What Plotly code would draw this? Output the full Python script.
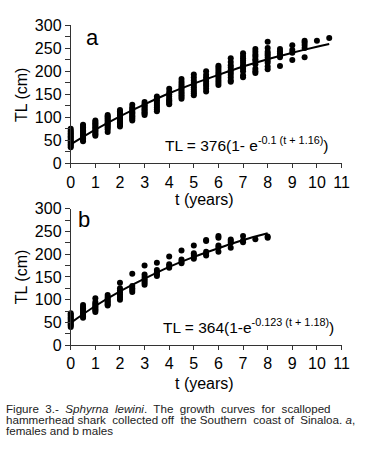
import plotly.graph_objects as go

# ---------------- data ----------------
a_ages = [0, 0.5, 1, 1.5, 2, 2.5, 3, 3.5, 4, 4.5, 5, 5.5, 6, 6.5, 7, 7.5, 8, 8.5, 9, 9.5, 10, 10.5]
a_tl = [
    [35, 38, 41, 44, 47, 50, 53, 56, 59, 62, 65, 68, 71, 75],
    [48, 51, 54, 57, 60, 63, 66, 69, 72, 75, 78, 81, 84],
    [60, 63, 66, 69, 72, 75, 78, 81, 84, 87, 90, 93],
    [68, 74, 78, 81, 84, 87, 90, 93, 96, 99, 102, 105],
    [80, 83, 86, 89, 92, 95, 98, 101, 104, 107, 110, 113, 116],
    [93, 96, 99, 102, 105, 108, 111, 114, 118, 121, 127],
    [105, 108, 111, 114, 117, 120, 123, 126, 129, 133],
    [113, 117, 121, 125, 129, 133, 137, 141, 145],
    [128, 131, 134, 137, 140, 145, 150, 155, 162],
    [140, 144, 148, 152, 156, 160, 164, 168, 172, 177, 183],
    [148, 152, 156, 160, 165, 170, 175, 180, 186, 193],
    [156, 162, 168, 172, 177, 182, 187, 192, 200],
    [170, 175, 180, 185, 190, 194, 198, 203, 208, 212],
    [177, 180, 186, 192, 197, 202, 208, 213, 220, 228],
    [187, 191, 200, 205, 209, 213, 218, 223, 228, 233, 239],
    [196, 200, 205, 215, 222, 226, 232, 236, 242, 248],
    [204, 210, 218, 223, 229, 234, 238, 242, 250, 264],
    [211, 230, 234, 239, 243, 248],
    [224, 240, 246, 256],
    [230, 250, 257, 262, 266],
    [266],
    [272],
]
a_curve_t = [0, 1, 2, 3, 4, 5, 6, 7, 8, 9, 10, 10.5]
a_curve_tl = [41, 73, 102, 128, 152, 173, 192, 210, 226, 240, 253, 259]

b_ages = [0, 0.5, 1, 1.5, 2, 2.5, 3, 3.5, 4, 4.5, 5, 5.5, 6, 6.5, 7, 7.5, 8]
b_tl = [
    [40, 43, 46, 49, 52, 55, 58, 61, 64, 67, 70],
    [60, 63, 66, 69, 72, 75, 78, 81, 84, 88],
    [73, 76, 79, 82, 85, 88, 91, 95, 103],
    [87, 90, 93, 96, 99, 102, 106, 110],
    [100, 104, 108, 112, 116, 120, 125, 137],
    [117, 121, 125, 130, 157],
    [133, 137, 141, 145, 150, 155, 175],
    [152, 156, 160, 165, 181],
    [170, 174, 178, 195],
    [180, 184, 188, 208],
    [190, 194, 198, 202, 219],
    [197, 201, 205, 229, 231],
    [205, 215, 219, 236, 240],
    [214, 225, 229, 232],
    [226, 230, 240],
    [233],
    [236, 239],
]
b_curve_t = [0, 1, 2, 3, 4, 5, 6, 7, 8]
b_curve_tl = [49, 86, 118, 146, 172, 194, 213, 231, 246]

x_ticks = list(range(0, 12))
y_ticks = [0, 50, 100, 150, 200, 250, 300]

caption_line1 = "Figure  3.-  <i>Sphyrna  lewini</i>.  The  growth  curves  for  scalloped"
caption_line2 = "hammerhead shark  collected off  the Southern  coast of  Sinaloa. <i>a</i>,"
caption_line3 = "females and b males"

# ---------------- figure ----------------
W, H = 365, 463

def flat(ages, vals):
    xs, ys = [], []
    for t, col in zip(ages, vals):
        for v in col:
            xs.append(t)
            ys.append(v)
    return xs, ys

ax, ay = flat(a_ages, a_tl)
bx, by = flat(b_ages, b_tl)

fig = go.Figure()
mk = dict(color="black", size=6)
fig.add_trace(go.Scatter(x=ax, y=ay, mode="markers", marker=mk, cliponaxis=False,
                         xaxis="x", yaxis="y", showlegend=False))
fig.add_trace(go.Scatter(x=a_curve_t, y=a_curve_tl, mode="lines", line=dict(color="black", width=2, shape="spline"),
                         cliponaxis=False, xaxis="x", yaxis="y", showlegend=False))
fig.add_trace(go.Scatter(x=bx, y=by, mode="markers", marker=mk, cliponaxis=False,
                         xaxis="x2", yaxis="y2", showlegend=False))
fig.add_trace(go.Scatter(x=b_curve_t, y=b_curve_tl, mode="lines", line=dict(color="black", width=2, shape="spline"),
                         cliponaxis=False, xaxis="x2", yaxis="y2", showlegend=False))

def px_x(p):
    return p / W

def px_y(p):
    return 1 - p / H

tickfont = dict(family="Liberation Sans, Arial, sans-serif", size=16, color="black")

xcommon = dict(range=[0, 11], tickvals=x_ticks, ticks="outside", ticklen=4, tickcolor="#333",
               showline=True, linecolor="#333", linewidth=1, showgrid=False, zeroline=False,
               tickfont=tickfont, domain=[px_x(69), px_x(349)])
ycommon = dict(range=[0, 300], tickvals=y_ticks, ticks="outside", ticklen=5, tickcolor="#333",
               showline=True, linecolor="#333", linewidth=1, showgrid=False, zeroline=False,
               tickfont=tickfont,
               minor=dict(tickvals=[25, 75, 125, 175, 225, 275], ticks="outside", ticklen=5, tickcolor="#333"))

fig.update_layout(
    width=W, height=H,
    margin=dict(l=0, r=0, t=0, b=0),
    paper_bgcolor="white", plot_bgcolor="white",
    xaxis=dict(**xcommon, anchor="y"),
    yaxis=dict(**ycommon, anchor="x", domain=[px_y(161.3), px_y(17.7)]),
    xaxis2=dict(**xcommon, anchor="y2"),
    yaxis2=dict(**ycommon, anchor="x2", domain=[px_y(350), px_y(208.3)]),
)

txt = dict(family="Liberation Sans, Arial, sans-serif", color="black")
anns = []
def ann(x, y, text, size, xanchor="center", yanchor="middle", angle=0, color="black"):
    f = dict(txt, size=size, color=color)
    anns.append(dict(x=px_x(x), y=px_y(y), xref="paper", yref="paper", text=text, showarrow=False,
                     xanchor=xanchor, yanchor=yanchor, font=f, textangle=angle, borderpad=0))

ann(92, 31, "a", 22)
ann(83, 220, "b", 22)
ann(207, 199, "t (years)", 16)
ann(207, 390, "t (years)", 16)
ann(18, 90, "TL (cm)", 16, angle=-90)
ann(18, 279, "TL (cm)", 16, angle=-90)
ann(165, 141, "TL = 376(1- e<sup>-0.1 (t + 1.16)</sup>)", 15.5, xanchor="left")
ann(163, 330, "TL = 364(1-e<sup>-0.123 (t + 1.18)</sup>)", 15.5, xanchor="left")

cap_c = "#222"
ann(1, 416, caption_line1, 11.6, xanchor="left", color=cap_c)
ann(1, 427.5, caption_line2, 11.6, xanchor="left", color=cap_c)
ann(1, 438.5, caption_line3, 11.6, xanchor="left", color=cap_c)

fig.update_layout(annotations=anns)
fig.write_html("out.html", config={"displayModeBar": False},
               post_script="document.body.style.margin='0';document.body.style.padding='0';")
